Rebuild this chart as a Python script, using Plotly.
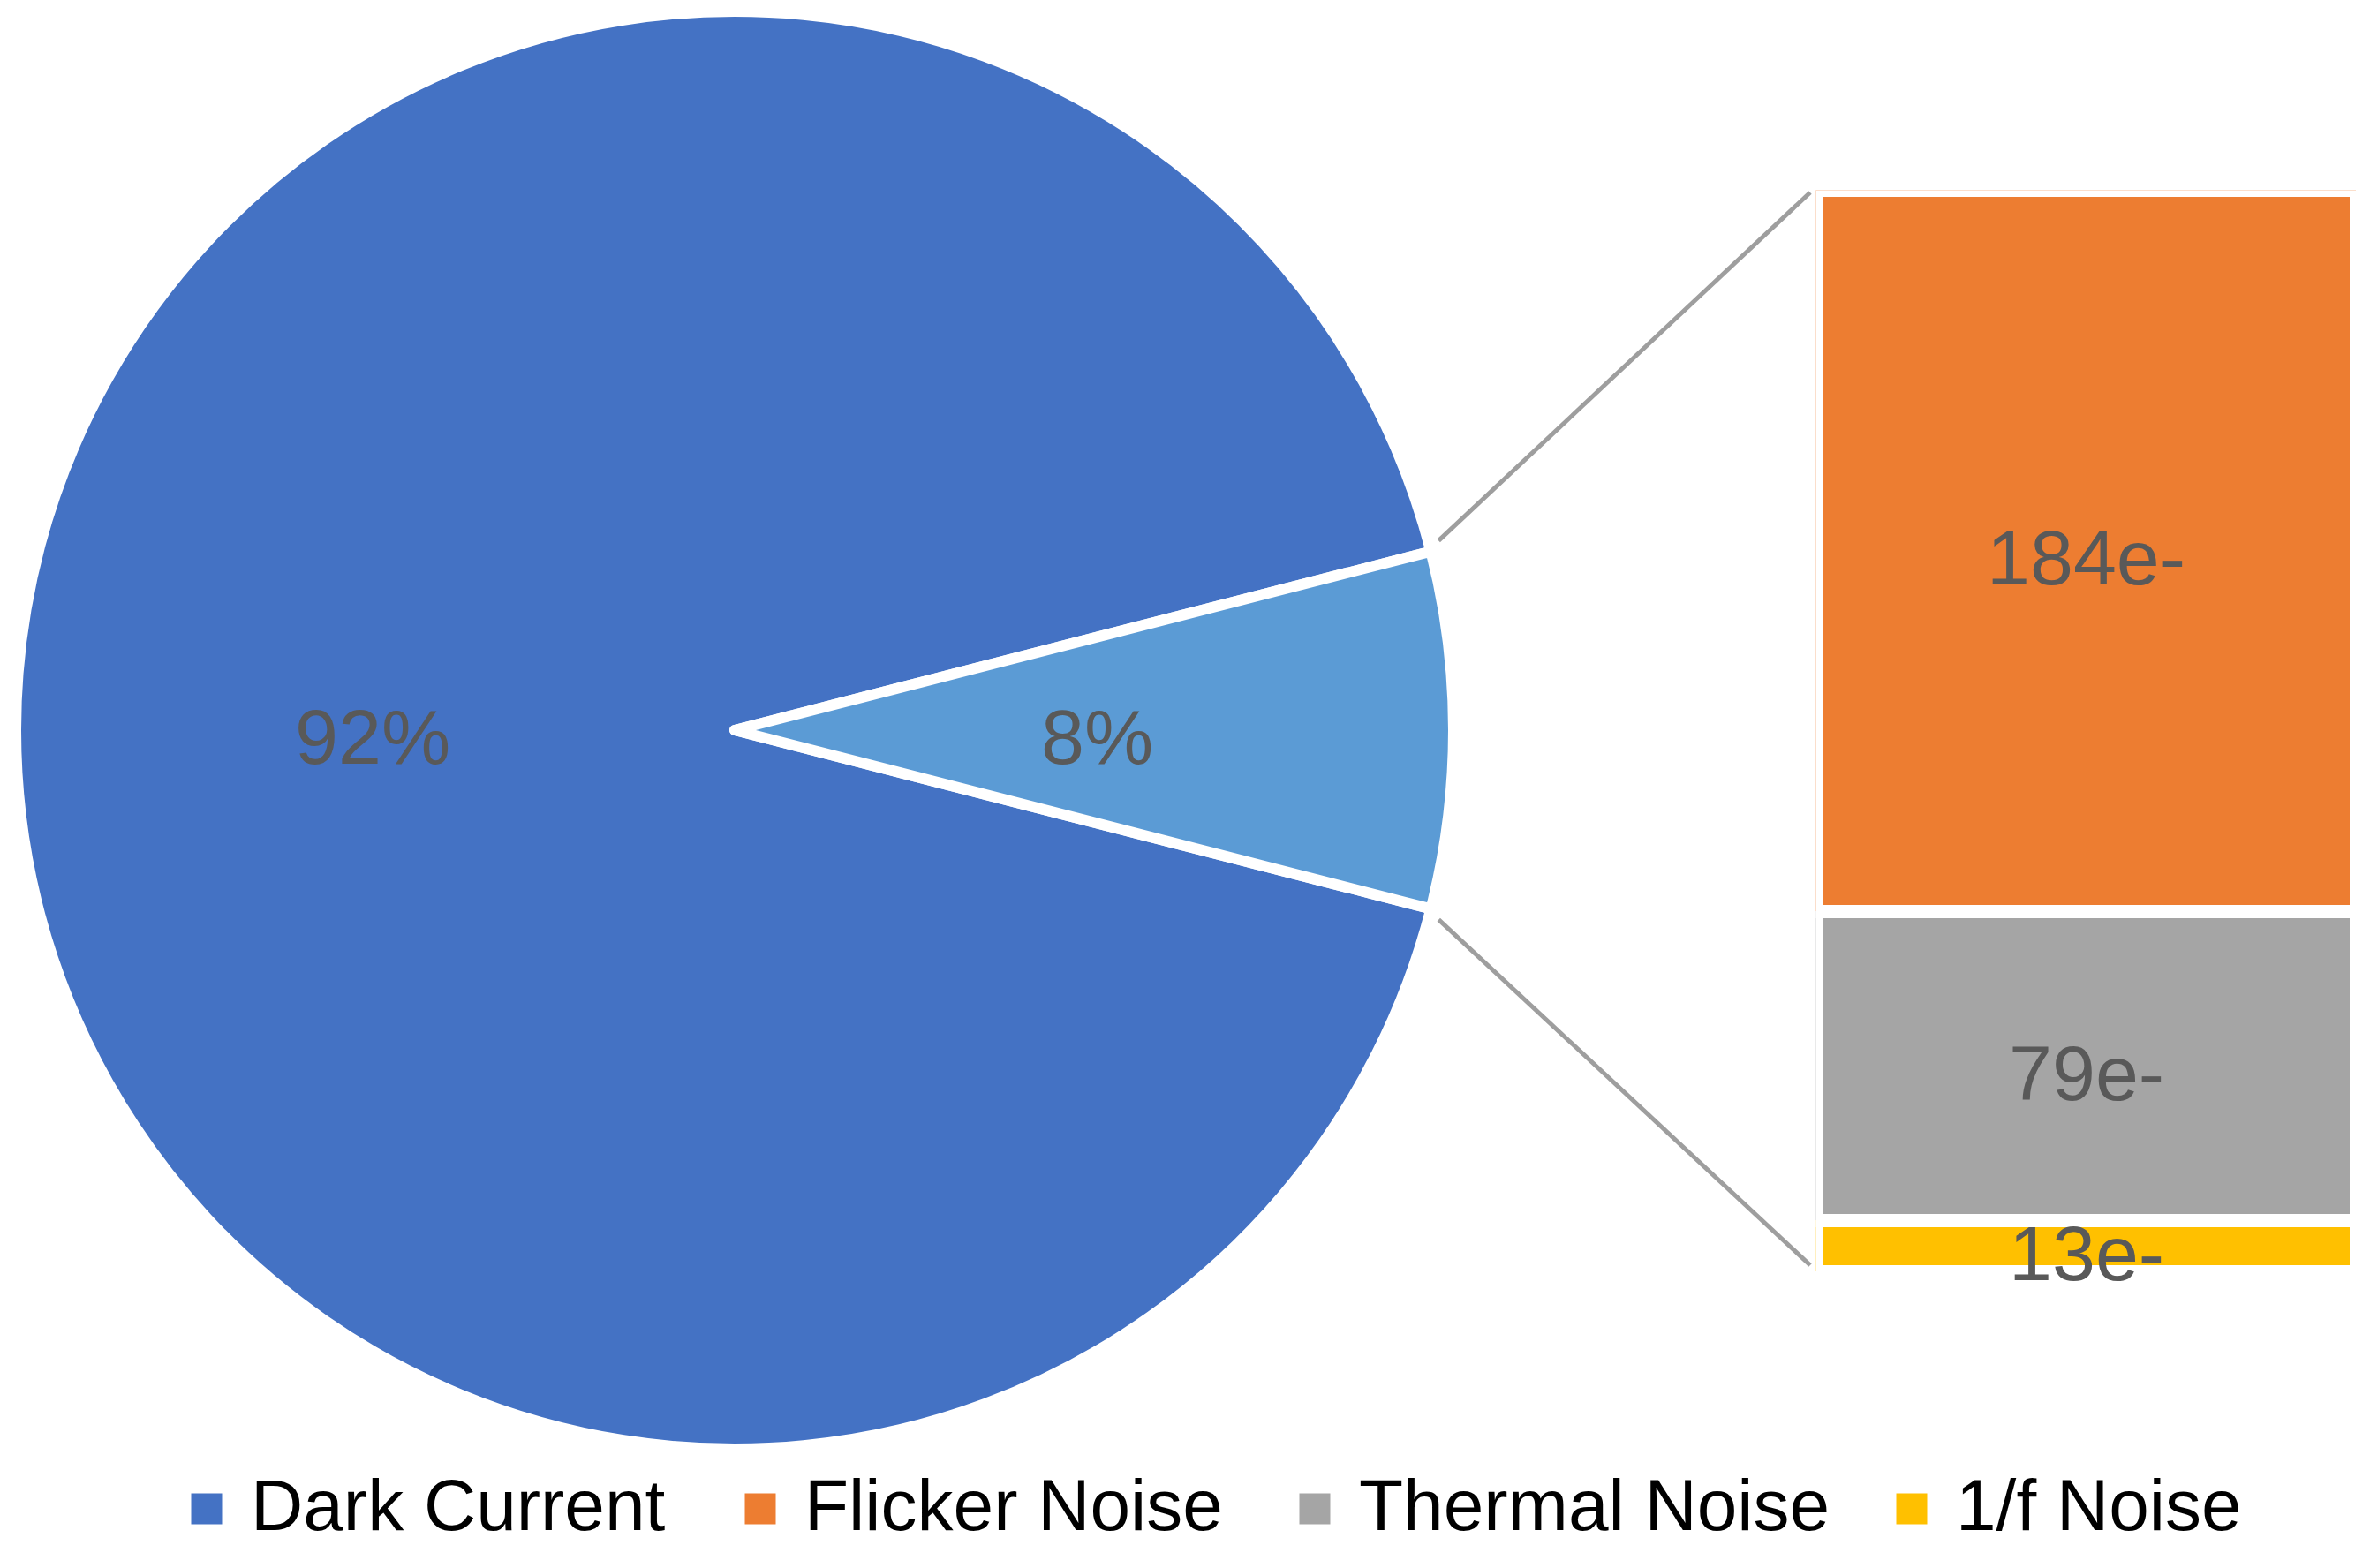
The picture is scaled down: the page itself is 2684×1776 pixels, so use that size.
import math
import plotly.graph_objects as go

# ---------------- data ----------------
pie_labels = ["Dark Current", "Other"]
bar_labels = ["Flicker Noise", "Thermal Noise", "1/f Noise"]
bar_values = [184, 79, 13]
dark_current_value = 3174
pie_values = [dark_current_value, sum(bar_values)]

pie_colors = ["#4472C4", "#5B9BD5"]
bar_colors = ["#ED7D31", "#A5A5A5", "#FFC000"]
legend_names = ["Dark Current", "Flicker Noise", "Thermal Noise", "1/f Noise"]
legend_colors = ["#4472C4", "#ED7D31", "#A5A5A5", "#FFC000"]

# ---------------- layout geometry (pixels) ----------------
W, H = 2684, 1776
FONT = "Liberation Sans"
LABEL_COLOR = "#595959"

pie_cx, pie_cy, pie_r = 832, 827, 814
border = 12
vis_r = pie_r - border / 2
bar_left_px, bar_right_px = 2056.5, 2668.5
bar_top_px, bar_bot_px = 215.5, 1440.5
gap_line = 15
legend_sq_px = [234, 861, 1489, 2165]
legend_y_px = 1709
legend_sq = 35


def fx(px):
    return px / W


def fy(py):
    return 1 - py / H


total = sum(pie_values)
fracs = [v / total for v in pie_values]
half_angle = 180 * fracs[1]  # degrees
rotation = 90 + half_angle

fig = go.Figure()

fig.add_trace(go.Pie(
    labels=pie_labels,
    values=pie_values,
    sort=False,
    direction="clockwise",
    rotation=rotation,
    marker=dict(colors=pie_colors, line=dict(color="white", width=border)),
    textinfo="none",
    domain=dict(x=[fx(pie_cx - pie_r), fx(pie_cx + pie_r)],
                y=[fy(pie_cy + pie_r), fy(pie_cy - pie_r)]),
    showlegend=False,
    hoverinfo="label+percent",
))

annotations = []

# stacked bar: bottom first
stack_order = list(reversed(list(zip(bar_labels, bar_values, bar_colors))))
base = 0
for name, val, col in stack_order:
    fig.add_trace(go.Bar(
        x=[0], y=[val], name=name,
        marker=dict(color=col, line=dict(color="white", width=gap_line)),
        showlegend=False,
        hovertemplate=name + ": %{y}e-<extra></extra>",
        xaxis="x", yaxis="y",
    ))
    annotations.append(dict(
        x=0, y=base + val / 2, xref="x", yref="y",
        text=f"{val}e-", showarrow=False, yshift=-8,
        xanchor="center", yanchor="middle",
        font=dict(family=FONT, size=88, color=LABEL_COLOR),
    ))
    base += val

# pie percentage labels at half radius along each slice's mid-angle
mid_angles = [180.0, 0.0]  # dark current slice centred left, the "other" slice centred right
for frac, mid in zip(fracs, mid_angles):
    a = math.radians(mid)
    px = pie_cx + 0.508 * vis_r * math.cos(a)
    py = pie_cy - 0.508 * vis_r * math.sin(a) + 8
    annotations.append(dict(
        x=fx(px), y=fy(py), xref="paper", yref="paper",
        text=f"{round(frac * 100)}%", showarrow=False,
        xanchor="center", yanchor="middle",
        font=dict(family=FONT, size=88, color=LABEL_COLOR),
    ))

# custom legend
shapes = []
for name, col, cx in zip(legend_names, legend_colors, legend_sq_px):
    shapes.append(dict(
        type="rect", xref="paper", yref="paper",
        x0=fx(cx - legend_sq / 2), x1=fx(cx + legend_sq / 2),
        y0=fy(legend_y_px + legend_sq / 2), y1=fy(legend_y_px - legend_sq / 2),
        fillcolor=col, line=dict(width=0),
    ))
    annotations.append(dict(
        x=fx(cx + 48), y=fy(legend_y_px - 5), xref="paper", yref="paper",
        text=name, showarrow=False, xanchor="left", yanchor="middle",
        font=dict(family=FONT, size=82, color="#000000"),
    ))

# connector lines from pie slice edge to bar ends
ang = math.radians(half_angle)
edge_top = (pie_cx + vis_r * math.cos(ang), pie_cy - vis_r * math.sin(ang))
edge_bot = (pie_cx + vis_r * math.cos(ang), pie_cy + vis_r * math.sin(ang))
bar_vis_left = bar_left_px + gap_line / 2
end_x = bar_vis_left - 14
end_top = (end_x, bar_top_px + gap_line / 2 - 5)
end_bot = (end_x, bar_bot_px - gap_line / 2)
for (sx, sy), (ex, ey) in [(edge_top, end_top), (edge_bot, end_bot)]:
    dx, dy = ex - sx, ey - sy
    ln = math.hypot(dx, dy)
    sx2, sy2 = sx + 20 * dx / ln, sy + 20 * dy / ln
    shapes.append(dict(
        type="line", xref="paper", yref="paper",
        x0=fx(sx2), y0=fy(sy2), x1=fx(ex), y1=fy(ey),
        line=dict(color="#9E9E9E", width=5),
    ))

fig.update_layout(
    width=W, height=H,
    margin=dict(l=0, r=0, t=0, b=0),
    paper_bgcolor="white", plot_bgcolor="rgba(0,0,0,0)",
    barmode="stack", bargap=0,
    xaxis=dict(domain=[fx(bar_left_px), fx(bar_right_px)], range=[-0.5, 0.5],
               visible=False, fixedrange=True),
    yaxis=dict(domain=[fy(bar_bot_px), fy(bar_top_px)], range=[0, sum(bar_values)],
               visible=False, fixedrange=True),
    shapes=shapes,
    annotations=annotations,
    showlegend=False,
    font=dict(family=FONT),
)

fig.write_html(
    "out.html",
    config={"displayModeBar": False},
    post_script="document.body.style.margin='0';document.body.style.overflow='hidden';",
)
